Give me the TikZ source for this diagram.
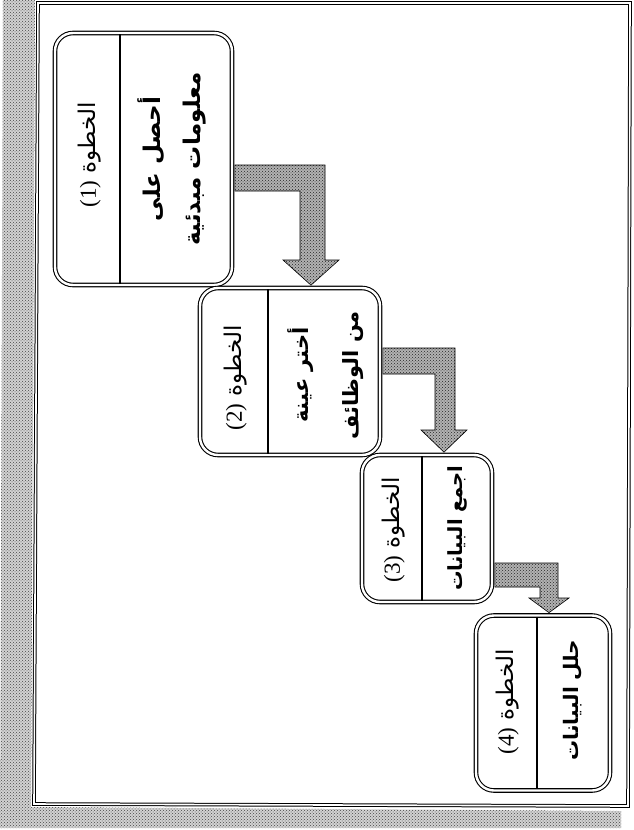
\documentclass[tikz,border=0pt]{standalone}
\usepackage{fontspec}
\setmainfont{Liberation Serif}
\newfontfamily\arabicfont[Script=Arabic]{DejaVu Sans}
\newfontfamily\latinfont{Liberation Serif}
\TeXXeTstate=1
\usetikzlibrary{patterns,calc}
\tikzset{
  stepbox/.style={draw, double, double distance=2.4pt, line width=1.1pt, rounded corners=18pt, fill=white, inner sep=0pt},
  divider/.style={line width=1.8pt},
  hdr/.style={rotate=90, font=\arabicfont\fontsize{23}{26}\selectfont, inner sep=0pt},
  body/.style={rotate=90, align=center, inner sep=0pt},
  flowarrow/.style={draw=black, line width=0.6pt, preaction={fill=gray!60}, pattern=crosshatch dots, pattern color=black!85},
  frameline/.style={draw, double, double distance=1.6pt, line width=1pt},
  scanstrip/.style={preaction={fill=gray!35}, pattern=crosshatch dots, pattern color=gray!55!black}
}
\begin{document}
\begin{tikzpicture}[x=1pt,y=-1pt]
\useasboundingbox (0,0) rectangle (633,830);
% scanned edge strip and outer frame
\path[scanstrip] (3,0) -- (35,0) -- (31,807) -- (621,811) -- (621,828) -- (0,828) -- cycle;
\draw[frameline] (38,3) -- (630,3) -- (628,806) -- (34,804) -- cycle;

% boxes
\node[stepbox, minimum width=177pt, minimum height=252pt] (b1) at (143.5,159) {};
\node[stepbox, minimum width=180pt, minimum height=167pt] (b2) at (290,371.5) {};
\node[stepbox, minimum width=130pt, minimum height=147pt] (b3) at (427,528.5) {};
\node[stepbox, minimum width=134pt, minimum height=175pt] (b4) at (543,703) {};

% dividers
\draw[divider] ($(120,0 |- b1.north)+(0,1.8)$) -- ($(120,0 |- b1.south)+(0,-1.8)$);
\draw[divider] ($(268,0 |- b2.north)+(0,1.8)$) -- ($(268,0 |- b2.south)+(0,-1.8)$);
\draw[divider] ($(422,0 |- b3.north)+(0,1.8)$) -- ($(422,0 |- b3.south)+(0,-1.8)$);
\draw[divider] ($(537,0 |- b4.north)+(0,1.8)$) -- ($(537,0 |- b4.south)+(0,-1.8)$);

% texts
\node[hdr] (h1) at (90,155) {\beginR الخطوة \beginL{\latinfont(1)}\endL\endR};
\node[hdr] (h2) at (236,378) {\beginR الخطوة \beginL{\latinfont(2)}\endL\endR};
\node[hdr] (h3) at (394,530) {\beginR الخطوة \beginL{\latinfont(3)}\endL\endR};
\node[hdr] (h4) at (508,702) {\beginR الخطوة \beginL{\latinfont(4)}\endL\endR};

\node[body, font=\arabicfont\bfseries\fontsize{23}{40}\selectfont] (t1) at (172,159) {\beginR أحصل على\endR\\\beginR معلومات مبدئية\endR};
\node[body, font=\arabicfont\bfseries\fontsize{21}{50}\selectfont] (t2) at (326,375) {\beginR أختر عينة\endR\\\beginR من الوظائف\endR};
\node[body, font=\arabicfont\bfseries\fontsize{19.5}{24}\selectfont] (t3) at (457,528) {\beginR اجمع البيانات\endR};
\node[body, font=\arabicfont\bfseries\fontsize{20}{24}\selectfont] (t4) at (573,700) {\beginR حلل البيانات\endR};

% elbow arrows
\coordinate (a1s) at ($(b1.east)+(2.3,0)$);
\coordinate (a1t) at ($(b2.north)+(0,-2.3)$);
\draw[flowarrow] (a1s |- 0,165) -- (325,165) -- (325,260) -- (339,260) -- (311,0 |- a1t) -- (283,260) -- (300,260) -- (300,191) -- (a1s |- 0,191) -- cycle;

\coordinate (a2s) at ($(b2.east)+(2.3,0)$);
\coordinate (a2t) at ($(b3.north)+(0,-2.3)$);
\draw[flowarrow] (a2s |- 0,348) -- (455,348) -- (455,430) -- (467,430) -- (444,0 |- a2t) -- (421,430) -- (435,430) -- (435,374) -- (a2s |- 0,374) -- cycle;

\coordinate (a3s) at ($(b3.east)+(2.3,0)$);
\coordinate (a3t) at ($(b4.north)+(0,-2.3)$);
\draw[flowarrow] (a3s |- 0,563) -- (558,563) -- (558,598) -- (569,598) -- (549,0 |- a3t) -- (529,598) -- (540,598) -- (540,587) -- (a3s |- 0,587) -- cycle;
\end{tikzpicture}
\end{document}
